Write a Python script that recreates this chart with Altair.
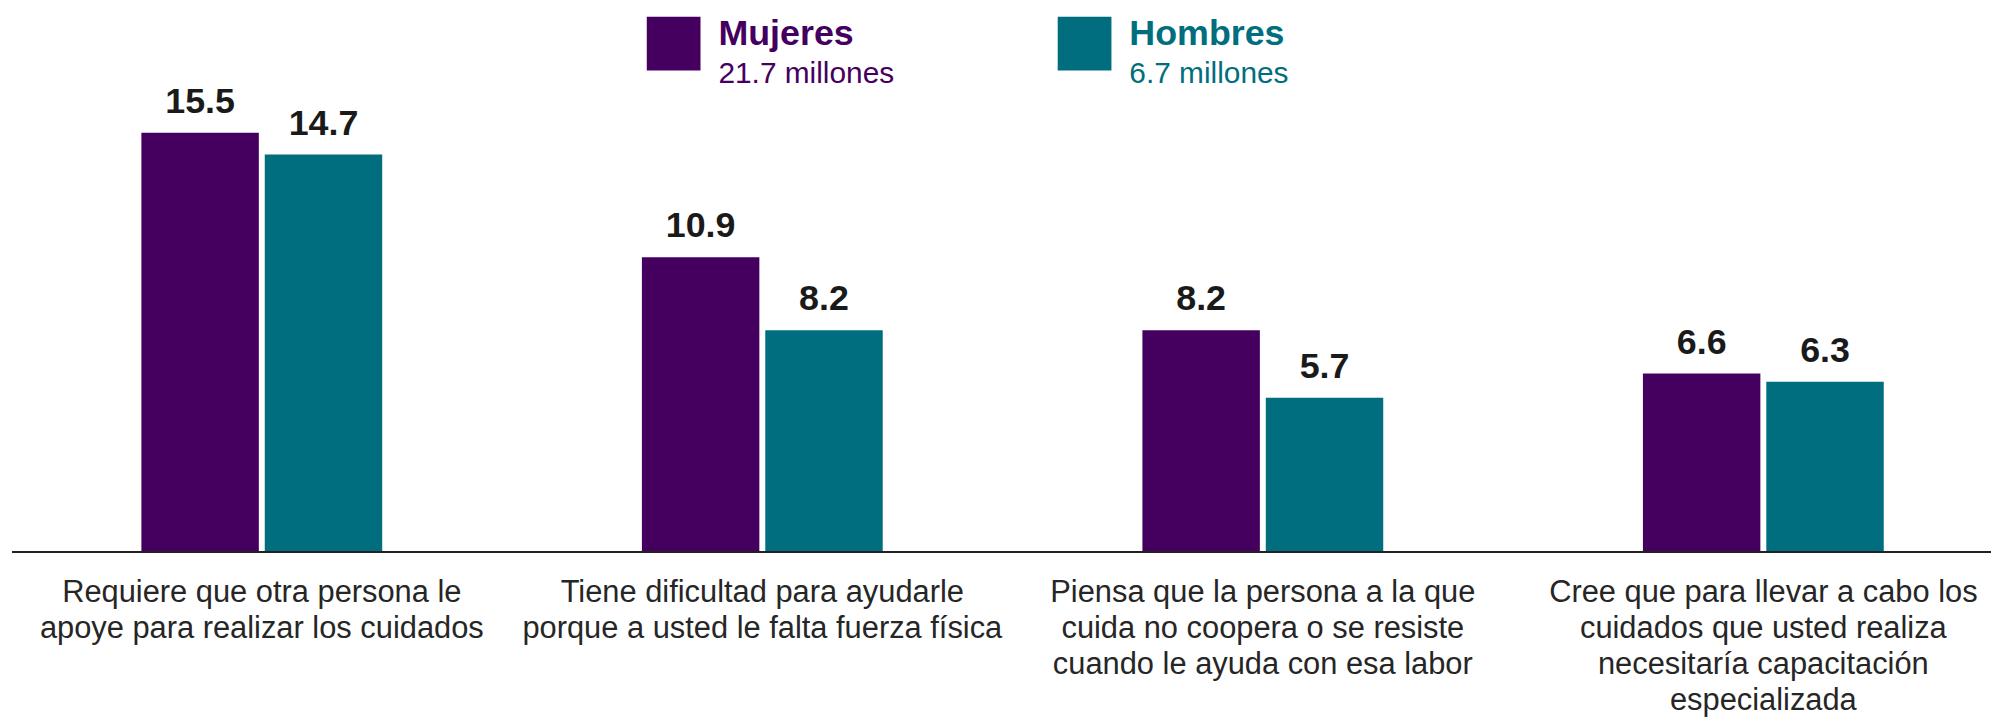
import altair as alt
import pandas as pd

# ---- data ----
categories = [
    "Requiere que otra persona le\napoye para realizar los cuidados",
    "Tiene dificultad para ayudarle\nporque a usted le falta fuerza física",
    "Piensa que la persona a la que\ncuida no coopera o se resiste\ncuando le ayuda con esa labor",
    "Cree que para llevar a cabo los\ncuidados que usted realiza\nnecesitaría capacitación\nespecializada",
]
series = ["Mujeres", "Hombres"]
mujeres = [15.5, 10.9, 8.2, 6.6]
hombres = [14.7, 8.2, 5.7, 6.3]
legend_totals = ["21.7 millones", "6.7 millones"]
colors = ["#45005F", "#006E7E"]

FONT = "Liberation Sans"

rows = []
for c, m, h in zip(categories, mujeres, hombres):
    rows.append({"categoria": c, "serie": "Mujeres", "valor": m})
    rows.append({"categoria": c, "serie": "Hombres", "valor": h})
df = pd.DataFrame(rows)

color_scale = alt.Scale(domain=series, range=colors)

# ---- main panel ----
base = alt.Chart(df).encode(
    x=alt.X(
        "categoria:N",
        sort=categories,
        scale=alt.Scale(domain=categories, paddingInner=0.507, paddingOuter=0.2305, align=0.548),
        axis=alt.Axis(
            title=None, domain=False, ticks=False, tickSize=0, labelAngle=0,
            labelFont=FONT, labelFontSize=31, labelColor="#262626",
            labelPadding=26, labelLineHeight=36, labelLimit=0,
            labelBaseline="top", labelExpr="split(datum.label, '\\n')",
        ),
    ),
    xOffset=alt.XOffset("serie:N", sort=series,
                        scale=alt.Scale(domain=series, paddingInner=0.048, paddingOuter=0.024)),
    y=alt.Y("valor:Q", scale=alt.Scale(domain=[0, 17.4], nice=False), axis=None),
)

bars = base.mark_bar().encode(
    color=alt.Color("serie:N", scale=color_scale, legend=None)
)
values = base.mark_text(
    baseline="alphabetic", dy=-20, font=FONT, fontSize=36, fontWeight="bold", color="#1a1a1a"
).encode(text=alt.Text("valor:Q", format=".1f"))

zero = alt.Chart(pd.DataFrame({"v": [0]})).mark_rule(color="#222222", strokeWidth=2).encode(
    y=alt.Y("v:Q")
)

main = alt.layer(bars, values, zero).properties(width=1989, height=473)

# ---- legend panel ----
leg_df = pd.DataFrame({"serie": series, "total": legend_totals})
leg_x = alt.X("serie:N", sort=series,
              scale=alt.Scale(type="point", domain=series, range=[665, 1078], padding=0), axis=None)
leg_color = alt.Color("serie:N", scale=color_scale, legend=None)

swatch = alt.Chart(leg_df).mark_point(
    shape="square", size=2916, filled=True, opacity=1, strokeWidth=0
).encode(x=leg_x, y=alt.value(34), color=leg_color)

name = alt.Chart(leg_df).mark_text(
    align="left", baseline="alphabetic", dx=45, font=FONT, fontSize=36, fontWeight="bold"
).encode(x=leg_x, y=alt.value(35), text="serie:N", color=leg_color)

total = alt.Chart(leg_df).mark_text(
    align="left", baseline="alphabetic", dx=45, font=FONT, fontSize=30
).encode(x=leg_x, y=alt.value(74), text="total:N", color=leg_color)

legend = alt.layer(swatch, name, total).properties(width=1989, height=72)

chart = alt.vconcat(legend, main, spacing=0, bounds="flush").properties(
    padding={"left": 3, "top": 0, "right": 0, "bottom": 0}
).configure_view(strokeWidth=0)

chart.save("out.html", embed_options={"renderer": "svg", "actions": False})
